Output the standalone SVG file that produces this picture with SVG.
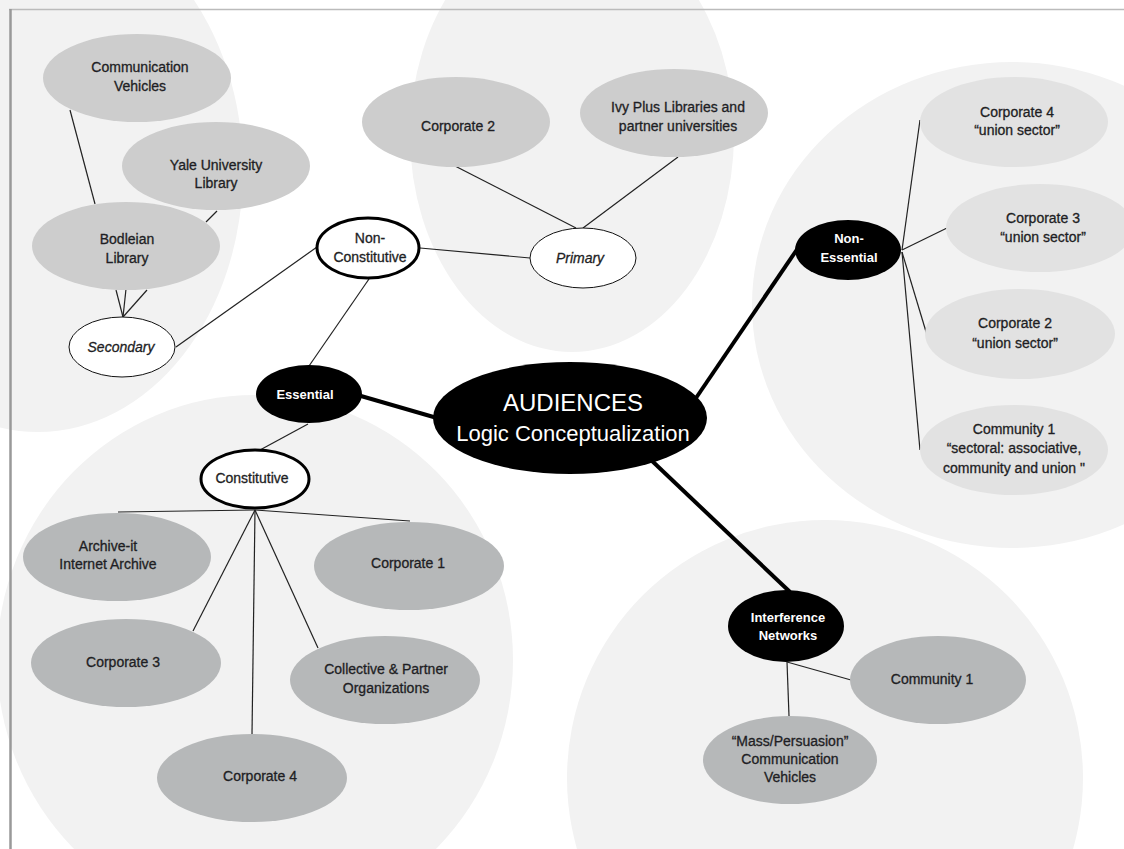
<svg xmlns="http://www.w3.org/2000/svg" width="1124" height="849" viewBox="0 0 1124 849">
<style>
text{font-family:"Liberation Sans",Arial,sans-serif;font-size:14px;fill:#1e1e24;stroke:#1e1e24;stroke-width:0.3;text-anchor:middle}
.bg{fill:#f2f2f2}
.gA{fill:#cdcdcd}
.gB{fill:#e2e2e2}
.gC{fill:#b6b8b9}
.wt{fill:#fff;stroke:#111;stroke-width:1}
.wT{fill:#fff;stroke:#000;stroke-width:3}
.bk{fill:#000}
.bt{fill:#fff;stroke:none;font-weight:bold;font-size:13px}
.wl{fill:#fff;stroke:none}
.it{font-style:italic}
.ln{stroke:#222;stroke-width:1.2;fill:none}
.th{stroke:#000;stroke-width:4;fill:none}
</style>
<rect width="1124" height="849" fill="#fff"/>
<g id="background">
<ellipse class="bg" cx="38" cy="170" rx="205" ry="262"/>
<ellipse class="bg" cx="572" cy="135" rx="162" ry="217"/>
<ellipse class="bg" cx="1012" cy="305" rx="260" ry="243"/>
<ellipse class="bg" cx="255" cy="660" rx="258" ry="265"/>
<ellipse class="bg" cx="825" cy="778" rx="258" ry="258"/>
<line x1="9" y1="9.5" x2="1124" y2="9.5" stroke="#bbb" stroke-width="1.5"/>
<line x1="10.5" y1="9" x2="10.5" y2="849" stroke="#999" stroke-width="2.5"/>
</g>
<g id="connectors">
<line class="ln" x1="70" y1="110" x2="95" y2="204"/>
<line class="ln" x1="217" y1="211" x2="206" y2="222"/>
<line class="ln" x1="116" y1="290" x2="123" y2="317"/>
<line class="ln" x1="126" y1="289" x2="123" y2="317"/>
<line class="ln" x1="147" y1="290" x2="123" y2="317"/>
<line class="ln" x1="176" y1="347" x2="317" y2="247"/>
<line class="ln" x1="369" y1="279" x2="309" y2="366"/>
<line class="ln" x1="420" y1="248" x2="530" y2="258"/>
<line class="ln" x1="455" y1="166" x2="576" y2="228"/>
<line class="ln" x1="678" y1="157" x2="583" y2="228"/>
<line class="th" x1="361" y1="396" x2="437" y2="418"/>
<line class="th" x1="696" y1="398" x2="800" y2="245"/>
<line class="th" x1="650" y1="459" x2="790" y2="592"/>
<line class="ln" x1="902" y1="250" x2="920" y2="120"/>
<line class="ln" x1="902" y1="250" x2="947" y2="228"/>
<line class="ln" x1="902" y1="252" x2="927" y2="335"/>
<line class="ln" x1="902" y1="252" x2="920" y2="450"/>
<line class="ln" x1="787" y1="662" x2="789" y2="716"/>
<line class="ln" x1="787" y1="662" x2="851" y2="680"/>
<line class="ln" x1="308" y1="424" x2="260" y2="450"/>
<line class="ln" x1="255" y1="510" x2="118" y2="512"/>
<line class="ln" x1="255" y1="510" x2="410" y2="521"/>
<line class="ln" x1="255" y1="510" x2="193" y2="631"/>
<line class="ln" x1="255" y1="510" x2="252" y2="734"/>
<line class="ln" x1="255" y1="510" x2="318" y2="648"/>
</g>
<g id="n-commveh"><ellipse class="gA" cx="137" cy="78" rx="94" ry="44"/><text x="140" y="72">Communication</text><text x="140" y="91">Vehicles</text></g>
<g id="n-yale"><ellipse class="gA" cx="216" cy="166" rx="94" ry="44"/><text x="216" y="170">Yale University</text><text x="216" y="188">Library</text></g>
<g id="n-bodleian"><ellipse class="gA" cx="126" cy="246" rx="94" ry="44"/><text x="127" y="244">Bodleian</text><text x="127" y="263">Library</text></g>
<g id="n-secondary"><ellipse class="wt" cx="122" cy="347" rx="53" ry="30"/><text class="it" x="121" y="352">Secondary</text></g>
<g id="n-nonconst"><ellipse class="wT" cx="368" cy="248" rx="51" ry="30"/><text x="370" y="243">Non-</text><text x="370" y="262">Constitutive</text></g>
<g id="n-corp2top"><ellipse class="gA" cx="456" cy="122" rx="94" ry="45"/><text x="458" y="131">Corporate 2</text></g>
<g id="n-ivy"><ellipse class="gA" cx="674" cy="113" rx="94" ry="44"/><text x="678" y="112">Ivy Plus Libraries and</text><text x="678" y="131">partner universities</text></g>
<g id="n-primary"><ellipse class="wt" cx="583" cy="258" rx="53" ry="30"/><text class="it" x="580" y="263">Primary</text></g>
<g id="n-essential"><ellipse class="bk" cx="309" cy="394" rx="53" ry="29"/><text class="bt" x="305" y="399">Essential</text></g>
<g id="n-audiences"><ellipse class="bk" cx="570" cy="418" rx="137" ry="56"/><text class="wl" x="573" y="411" style="font-size:24px">AUDIENCES</text><text class="wl" x="573" y="441" style="font-size:22px">Logic Conceptualization</text></g>
<g id="n-nonessential"><ellipse class="bk" cx="848" cy="250" rx="53" ry="30"/><text class="bt" x="849" y="243">Non-</text><text class="bt" x="849" y="262">Essential</text></g>
<g id="n-corp4r"><ellipse class="gB" cx="1014" cy="122" rx="94" ry="45"/><text x="1017" y="117">Corporate 4</text><text x="1017" y="135">“union sector”</text></g>
<g id="n-corp3r"><ellipse class="gB" cx="1040" cy="228" rx="94" ry="44"/><text x="1043" y="223">Corporate 3</text><text x="1043" y="242">“union sector”</text></g>
<g id="n-corp2r"><ellipse class="gB" cx="1020" cy="334" rx="95" ry="45"/><text x="1015" y="328">Corporate 2</text><text x="1015" y="348">“union sector”</text></g>
<g id="n-comm1r"><ellipse class="gB" cx="1014" cy="450" rx="94" ry="45"/><text x="1014" y="434">Community 1</text><text x="1014" y="453">“sectoral: associative,</text><text x="1014" y="473">community and union "</text></g>
<g id="n-interference"><ellipse class="bk" cx="786" cy="626" rx="58" ry="36"/><text class="bt" x="788" y="622">Interference</text><text class="bt" x="788" y="640">Networks</text></g>
<g id="n-comm1b"><ellipse class="gC" cx="938" cy="680" rx="88" ry="44"/><text x="932" y="684">Community 1</text></g>
<g id="n-mass"><ellipse class="gC" cx="790" cy="760" rx="87" ry="44"/><text x="790" y="746">“Mass/Persuasion”</text><text x="790" y="764">Communication</text><text x="790" y="782">Vehicles</text></g>
<g id="n-constitutive"><ellipse class="wT" cx="255" cy="479" rx="54" ry="29"/><text x="252" y="483">Constitutive</text></g>
<g id="n-archive"><ellipse class="gC" cx="117" cy="557" rx="94" ry="44"/><text x="108" y="551">Archive-it</text><text x="108" y="569">Internet Archive</text></g>
<g id="n-corp1"><ellipse class="gC" cx="409" cy="566" rx="95" ry="44"/><text x="408" y="568">Corporate 1</text></g>
<g id="n-corp3b"><ellipse class="gC" cx="126" cy="663" rx="95" ry="44"/><text x="123" y="667">Corporate 3</text></g>
<g id="n-collective"><ellipse class="gC" cx="385" cy="680" rx="95" ry="44"/><text x="386" y="674">Collective &amp; Partner</text><text x="386" y="693">Organizations</text></g>
<g id="n-corp4b"><ellipse class="gC" cx="252" cy="778" rx="95" ry="44"/><text x="260" y="781">Corporate 4</text></g>
</svg>
